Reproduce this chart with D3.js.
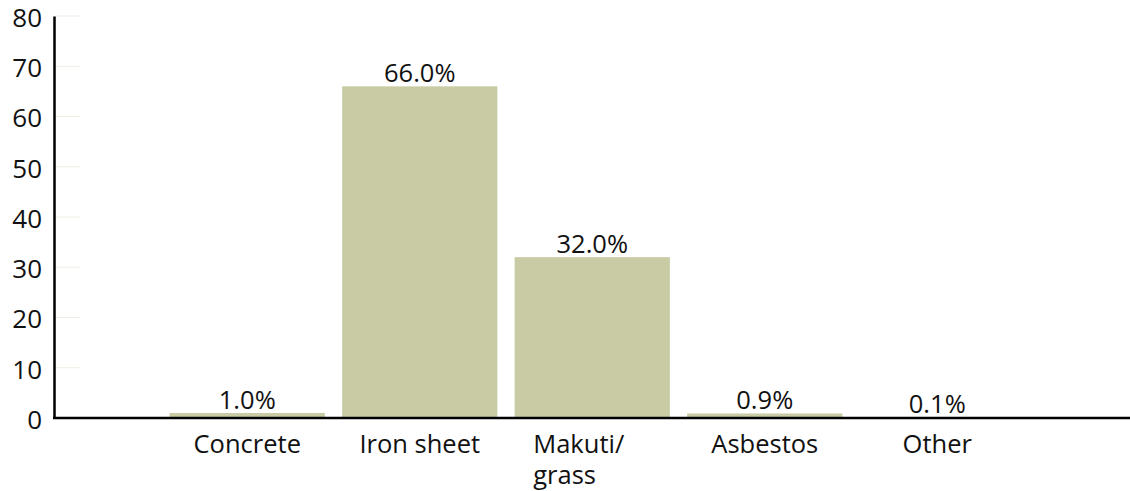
<!DOCTYPE html>
<html>
<head>
<meta charset="utf-8">
<script src="https://cdn.jsdelivr.net/npm/d3@7"></script>
<style>
  body { margin: 0; background: #fff; }
  text { font-family: "Open Sans", "Noto Sans", sans-serif; fill: #111; }
</style>
</head>
<body>
<div id="chart-area"></div>
<script>

var width = 1130,
    height = 491;

// Data
var categories = ["Concrete", "Iron sheet", "Makuti/ grass", "Asbestos", "Other"];
var values = [1.0, 66.0, 32.0, 0.9, 0.1];
var yTicks = [0, 10, 20, 30, 40, 50, 60, 70, 80];

var svg = d3.select("#chart-area").append("svg")
    .attr("width", width)
    .attr("height", height);

var y = d3.scaleLinear()
    .domain([0, 80])
    .range([418, 16]);

var x = d3.scaleBand()
    .domain(categories)
    .range([161, 1023.5])
    .paddingInner(0.1)
    .paddingOuter(0.05);

// faint grid stubs
svg.selectAll(".grid")
    .data(yTicks.slice(1))
    .enter().append("line")
    .attr("x1", 55).attr("x2", 80)
    .attr("y1", function(d) { return y(d); })
    .attr("y2", function(d) { return y(d); })
    .attr("stroke", "#eeeee4")
    .attr("stroke-width", 1);

// bars
svg.selectAll(".bar")
    .data(values)
    .enter().append("rect")
    .attr("class", "bar")
    .attr("x", function(d, i) { return x(categories[i]); })
    .attr("width", x.bandwidth())
    .attr("y", function(d) { return y(d); })
    .attr("height", function(d) { return y(0) - y(d); })
    .attr("fill", "#c8cba4");

// value labels
svg.selectAll(".val")
    .data(values)
    .enter().append("text")
    .attr("x", function(d, i) { return x(categories[i]) + x.bandwidth() / 2; })
    .attr("y", function(d) { return y(d) - 4; })
    .attr("text-anchor", "middle")
    .attr("font-size", 25.5)
    .text(function(d) { return d.toFixed(1) + "%"; });

// y axis
var yAxis = d3.axisLeft(y).tickValues(yTicks).tickSize(0).tickPadding(12);
var gy = svg.append("g")
    .attr("transform", "translate(54,0)")
    .call(yAxis);
gy.select(".domain").attr("stroke", "#000").attr("stroke-width", 2.5);
gy.selectAll("text")
    .attr("font-size", 26)
    .attr("dy", "0.4em")
    .style("font-family", "'Open Sans', sans-serif")
    .attr("fill", "#111");

// x axis line
svg.append("line")
    .attr("x1", 53).attr("x2", width)
    .attr("y1", y(0)).attr("y2", y(0))
    .attr("stroke", "#000")
    .attr("stroke-width", 2.5);

// category labels (wrap on space after slash)
svg.selectAll(".cat")
    .data(categories)
    .enter().append("text")
    .attr("font-size", 25.5)
    .each(function(d) {
        var t = d3.select(this);
        var cx = x(d) + x.bandwidth() / 2;
        if (d.indexOf("/ ") >= 0) {
            var parts = d.split(" ");
            t.attr("x", cx - 59).attr("y", 453).attr("text-anchor", "start");
            t.append("tspan").attr("x", cx - 59).attr("dy", 0).text(parts[0]);
            t.append("tspan").attr("x", cx - 59).attr("dy", 31).text(parts[1]);
        } else {
            t.attr("x", cx).attr("y", 453).attr("text-anchor", "middle").text(d);
        }
    });

</script>
</body>
</html>
